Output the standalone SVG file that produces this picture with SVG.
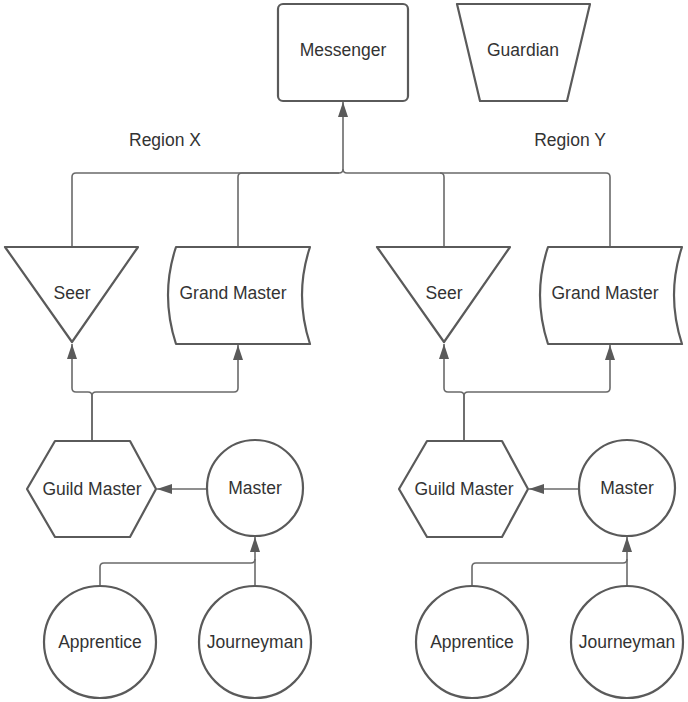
<svg xmlns="http://www.w3.org/2000/svg" width="688" height="702" viewBox="0 0 688 702">
<defs>
<style>
.s{fill:#fff;stroke:#5a5a5a;stroke-width:2.2;stroke-linejoin:round}
.c{fill:none;stroke:#6a6a6a;stroke-width:1.6}
.t{font-family:"Liberation Sans",Arial,sans-serif;font-size:17.5px;fill:#333;text-anchor:middle;dominant-baseline:central}
</style>
<marker id="ah" markerUnits="userSpaceOnUse" markerWidth="16" markerHeight="12" refX="15" refY="6" orient="auto">
<path d="M0,1 L15,6 L0,11 Z" fill="#5a5a5a"/>
</marker>
</defs>
<rect width="688" height="702" fill="#fff"/>
<g id="connectors">
<path class="c" marker-end="url(#ah)" d="M72,247 V177 Q72,173 76,173 H339 Q343,173 343,169 V102"/>
<path class="c" d="M238,247 V177 Q238,173 242,173 H339"/>
<path class="c" d="M444,247 V177 Q444,173 440,173 H347 Q343,173 343,169"/>
<path class="c" d="M610,247 V177 Q610,173 606,173 H440"/>
<path class="c" marker-end="url(#ah)" d="M92,441 V396 Q92,392 88,392 H76 Q72,392 72,388 V344"/>
<path class="c" marker-end="url(#ah)" d="M92,441 V396 Q92,392 96,392 H234 Q238,392 238,388 V345"/>
<path class="c" marker-end="url(#ah)" d="M464,441 V396 Q464,392 460,392 H448 Q444,392 444,388 V344"/>
<path class="c" marker-end="url(#ah)" d="M464,441 V396 Q464,392 468,392 H606 Q610,392 610,388 V345"/>
<path class="c" marker-end="url(#ah)" d="M207,489 H157"/>
<path class="c" marker-end="url(#ah)" d="M579,489 H529"/>
<path class="c" marker-end="url(#ah)" d="M255,586 V537"/>
<path class="c" d="M100,586 V567 Q100,563 104,563 H251 Q255,563 255,559"/>
<path class="c" marker-end="url(#ah)" d="M627,586 V537"/>
<path class="c" d="M472,586 V567 Q472,563 476,563 H623 Q627,563 627,559"/>
</g>
<g id="messenger"><rect class="s" x="278" y="4" width="130" height="97" rx="5"/><text class="t" x="343" y="50">Messenger</text></g>
<g id="guardian"><path class="s" d="M457,4 H590 L567,101 H480 Z"/><text class="t" x="523" y="50">Guardian</text></g>
<g id="regionX"><text class="t" x="165" y="140">Region X</text></g>
<g id="regionY"><text class="t" x="570" y="140">Region Y</text></g>
<g id="seerX"><path class="s" d="M5,247 H138 L72,342 Z"/><text class="t" x="72" y="293">Seer</text></g>
<g id="grandMasterX"><path class="s" d="M176,247 H310 Q294,295 310,344 H176 Q160,295 176,247 Z"/><text class="t" x="233" y="293">Grand Master</text></g>
<g id="guildMasterX"><path class="s" d="M27,489 L55,441 H130 L156,489 L130,537 H55 Z"/><text class="t" x="92" y="489">Guild Master</text></g>
<g id="masterX"><circle class="s" cx="255" cy="488" r="48"/><text class="t" x="255" y="488">Master</text></g>
<g id="apprenticeX"><circle class="s" cx="100" cy="642" r="56"/><text class="t" x="100" y="642">Apprentice</text></g>
<g id="journeymanX"><circle class="s" cx="255" cy="642" r="56"/><text class="t" x="255" y="642">Journeyman</text></g>
<g id="seerY"><path class="s" d="M377,247 H510 L444,342 Z"/><text class="t" x="444" y="293">Seer</text></g>
<g id="grandMasterY"><path class="s" d="M548,247 H682 Q666,295 682,344 H548 Q532,295 548,247 Z"/><text class="t" x="605" y="293">Grand Master</text></g>
<g id="guildMasterY"><path class="s" d="M399,489 L427,441 H502 L528,489 L502,537 H427 Z"/><text class="t" x="464" y="489">Guild Master</text></g>
<g id="masterY"><circle class="s" cx="627" cy="488" r="48"/><text class="t" x="627" y="488">Master</text></g>
<g id="apprenticeY"><circle class="s" cx="472" cy="642" r="56"/><text class="t" x="472" y="642">Apprentice</text></g>
<g id="journeymanY"><circle class="s" cx="627" cy="642" r="56"/><text class="t" x="627" y="642">Journeyman</text></g>
</svg>
